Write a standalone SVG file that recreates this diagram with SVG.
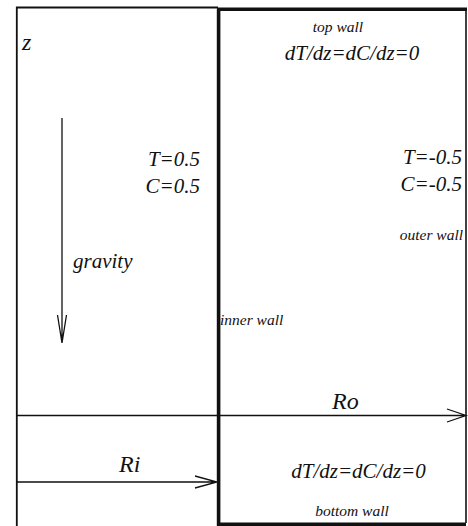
<svg xmlns="http://www.w3.org/2000/svg" width="468" height="526" viewBox="0 0 468 526">
<style>
text{font-family:'Liberation Serif','DejaVu Serif',serif;font-style:italic;fill:#111}
.m{font-size:21px}
.s{font-size:15.5px}
.b{font-size:24px}
.ln{stroke:#111;fill:none}
</style>
<rect x="0" y="0" width="468" height="526" fill="#fff"/>
<g id="frame">
<path class="ln" d="M16.8,526 V7.5 H218" stroke-width="1.8"/>
<path class="ln" d="M218.6,9.2 V524.4 H466 M217,9.2 H467" stroke-width="3.6"/>
<path class="ln" d="M466,9 V523" stroke-width="1.6"/>
</g>
<g id="connectors">
<path class="ln" d="M62,118 V343 M57.5,315 L62,343 L66.5,315" stroke-width="1.3"/>
<path class="ln" d="M17,415.5 H466 M447,409 L466,415.5 L447,422" stroke-width="1.3"/>
<path class="ln" d="M17,482 H217 M195,476 L217,482 L195,488" stroke-width="1.3"/>
</g>
<g id="labels">
<text x="22" y="50" font-size="24">z</text>
<text class="m" x="200" y="166" text-anchor="end">T=0.5</text>
<text class="m" x="200" y="193" text-anchor="end">C=0.5</text>
<text class="m" x="73" y="268" font-size="20">gravity</text>
<text class="s" x="220" y="325">inner wall</text>
<text class="s" x="338" y="32" text-anchor="middle" font-size="16">top wall</text>
<text class="m" x="352" y="60" text-anchor="middle" font-size="21.5">dT/dz=dC/dz=0</text>
<text class="m" x="462" y="164" text-anchor="end">T=-0.5</text>
<text class="m" x="462" y="191" text-anchor="end">C=-0.5</text>
<text class="s" x="463" y="240" text-anchor="end">outer wall</text>
<text class="b" x="332" y="409">Ro</text>
<text class="b" x="119" y="472">Ri</text>
<text class="m" x="358.5" y="478" text-anchor="middle" font-size="21.5">dT/dz=dC/dz=0</text>
<text class="s" x="352" y="516" text-anchor="middle" font-size="16">bottom wall</text>
</g>
</svg>
